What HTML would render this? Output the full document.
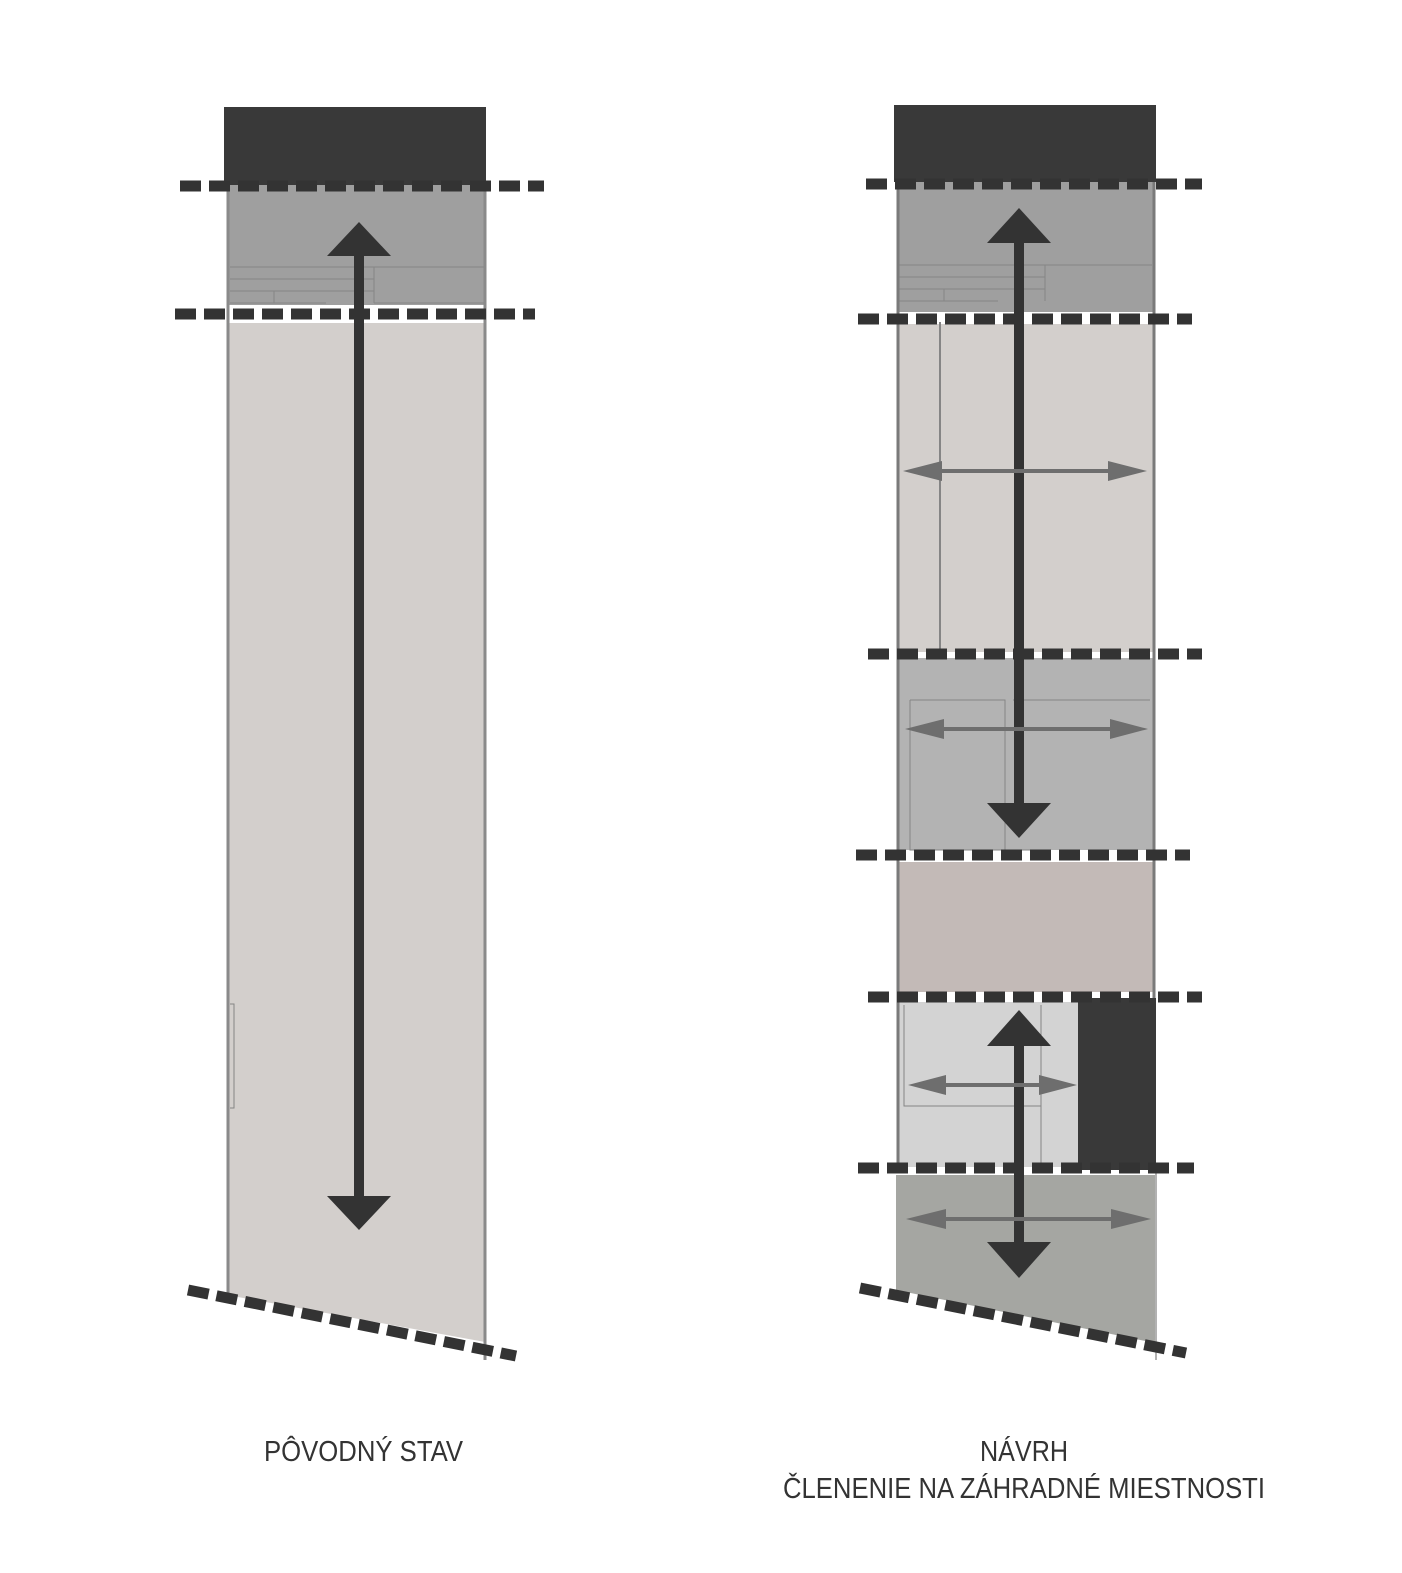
<!DOCTYPE html>
<html><head><meta charset="utf-8"><style>html,body{margin:0;padding:0;background:#fff}svg{display:block}</style></head>
<body>
<svg width="1402" height="1573" viewBox="0 0 1402 1573" xmlns="http://www.w3.org/2000/svg">
<defs>
<style>
.d{stroke:#333;stroke-width:11;stroke-dasharray:21 8;fill:none}
.t{stroke:#858585;stroke-width:1;fill:none}
</style>
</defs>
<!-- LEFT -->
<rect x="224" y="107" width="262" height="78" fill="#393939"/>
<rect x="227" y="185" width="258" height="120" fill="#9f9f9f"/>
<rect x="227" y="305" width="258" height="18" fill="#fff"/>
<polygon points="227,323 485,323 485,1342 227,1295" fill="#d3cfcc"/>
<line x1="228" y1="185" x2="228" y2="1295" stroke="#8a8a8a" stroke-width="3"/>
<line x1="485" y1="185" x2="485" y2="1360" stroke="#8a8a8a" stroke-width="3"/>
<path class="t" d="M230 267H374M230 279H374M230 291H374M274 291V303M230 303H326M374 267V303M374 267H484M374 303H484M230 1004H234V1108H230"/>
<line class="d" x1="180" y1="186" x2="544" y2="186"/>
<line class="d" x1="175" y1="314" x2="535" y2="314"/>
<line class="d" x1="188" y1="1290" x2="516" y2="1356"/>
<rect x="354" y="254" width="10" height="946" fill="#333"/>
<polygon points="359,222 391,256 327,256" fill="#333"/>
<polygon points="359,1230 391,1196 327,1196" fill="#333"/>
<!-- RIGHT -->
<rect x="894" y="105" width="262" height="77" fill="#393939"/>
<rect x="897" y="182" width="257" height="130" fill="#9f9f9f"/>
<path class="t" d="M899 265H1045M899 277H1045M899 289H1045M944 289V301M899 301H998M1045 265V301M1045 265H1152"/>
<rect x="897" y="312" width="257" height="12" fill="#fff"/>
<rect x="897" y="324" width="257" height="328" fill="#d3cfcc"/>
<line x1="940" y1="322" x2="940" y2="652" stroke="#858585" stroke-width="2"/>
<rect x="897" y="658" width="257" height="192" fill="#b3b3b3"/>
<path class="t" d="M910 700H1005V850M1013 700H1150M910 700V850H1046"/>
<rect x="897" y="862" width="257" height="130" fill="#c3bab7"/>
<rect x="897" y="1002" width="181" height="165" fill="#d3d3d3"/>
<path class="t" d="M904 1005V1106H1041M1041 1005V1167"/>
<rect x="1078" y="998" width="78" height="172" fill="#393939"/>
<polygon points="896,1175 1155,1175 1155,1343 896,1290" fill="#a5a6a2"/>
<line x1="898" y1="182" x2="898" y2="1167" stroke="#7a7a7a" stroke-width="3"/>
<line x1="1154" y1="182" x2="1154" y2="998" stroke="#7a7a7a" stroke-width="3"/>
<line x1="1156" y1="1170" x2="1156" y2="1360" stroke="#999" stroke-width="1.5"/>
<line class="d" x1="866" y1="184" x2="1202" y2="184"/>
<line class="d" x1="858" y1="319" x2="1192" y2="319"/>
<line class="d" x1="868" y1="654" x2="1202" y2="654"/>
<line class="d" x1="856" y1="855" x2="1190" y2="855"/>
<line class="d" x1="868" y1="997" x2="1202" y2="997"/>
<line class="d" x1="858" y1="1168" x2="1194" y2="1168"/>
<line class="d" x1="860" y1="1288" x2="1186" y2="1353"/>
<rect x="1014" y="240" width="10" height="566" fill="#333"/>
<polygon points="1019,208 1051,243 987,243" fill="#333"/>
<polygon points="1019,838 1051,803 987,803" fill="#333"/>
<rect x="1014" y="1043" width="10" height="202" fill="#333"/>
<polygon points="1019,1010 1051,1046 987,1046" fill="#333"/>
<polygon points="1019,1278 1051,1242 987,1242" fill="#333"/>
<g fill="#6e6e6e">
<rect x="938" y="469" width="172" height="4"/>
<polygon points="903,471 942,461 942,481"/><polygon points="1147,471 1108,461 1108,481"/>
<rect x="940" y="727" width="172" height="4"/>
<polygon points="905,729 944,719 944,739"/><polygon points="1148,729 1110,719 1110,739"/>
<rect x="940" y="1083" width="100" height="4"/>
<polygon points="908,1085 946,1075 946,1095"/><polygon points="1077,1085 1039,1075 1039,1095"/>
<rect x="940" y="1217" width="176" height="4"/>
<polygon points="906,1219 946,1209 946,1229"/><polygon points="1151,1219 1111,1209 1111,1229"/>
</g>
<!-- LABELS -->
<g font-family="'Liberation Sans', sans-serif" font-size="29" fill="#333">
<text x="264" y="1461" textLength="199" lengthAdjust="spacingAndGlyphs">PÔVODNÝ STAV</text>
<text x="980" y="1461" textLength="88" lengthAdjust="spacingAndGlyphs">NÁVRH</text>
<text x="783" y="1498" textLength="482" lengthAdjust="spacingAndGlyphs">ČLENENIE NA ZÁHRADNÉ MIESTNOSTI</text>
</g>
</svg>
</body></html>
